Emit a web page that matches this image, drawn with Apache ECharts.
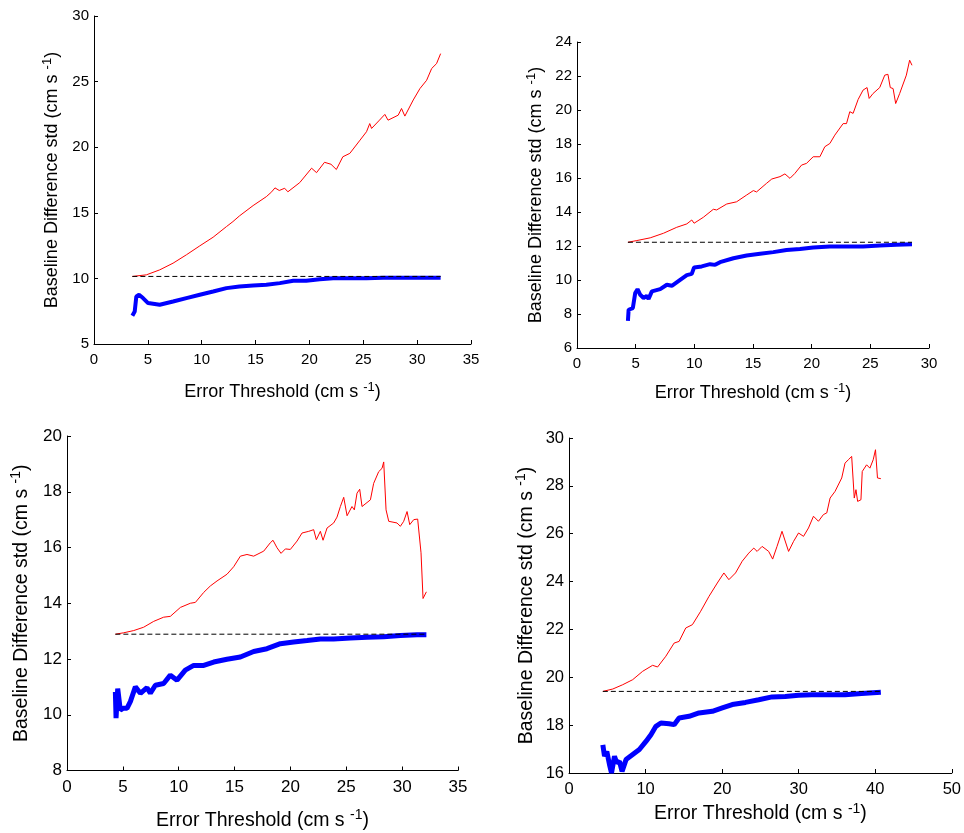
<!DOCTYPE html>
<html>
<head>
<meta charset="utf-8">
<script src="https://cdn.jsdelivr.net/npm/echarts@6/dist/echarts.min.js"></script>
<style>
  html, body { margin: 0; padding: 0; background: #fff; }
  #chart { width: 964px; height: 833px; }
</style>
</head>
<body>
<div id="chart"></div>
<script>
// panel 1
const redX1 = [3.56, 4.86, 6.1, 7.34, 8.58, 9.82, 11.06, 12.3, 12.9, 13.5, 14.77, 16.0, 16.5, 16.8, 17.2, 17.7, 18.0, 19.1, 20.2, 20.66, 21.4, 22.0, 22.5, 23.1, 23.75, 24.7, 25.3, 25.6, 25.77, 26.5, 27.0, 27.3, 28.24, 28.55, 28.86, 29.64, 30.26, 30.88, 31.35, 31.8, 32.18];
const redY1 = [10.15, 10.27, 10.65, 11.16, 11.8, 12.48, 13.14, 13.95, 14.33, 14.76, 15.55, 16.23, 16.6, 16.9, 16.7, 16.87, 16.6, 17.3, 18.4, 18.06, 18.85, 18.7, 18.3, 19.27, 19.53, 20.54, 21.18, 21.8, 21.43, 22.06, 22.5, 22.06, 22.44, 22.95, 22.37, 23.6, 24.47, 25.1, 26.0, 26.37, 27.13];
const blueX1 = [3.56, 3.78, 3.93, 4.18, 4.55, 5.02, 6.1, 7.34, 8.58, 9.82, 11.06, 12.3, 13.5, 14.77, 16.0, 17.25, 18.5, 19.7, 20.96, 22.2, 23.75, 25.3, 26.85, 28.4, 29.95, 32.18];
const blueY1 = [7.16, 7.48, 8.63, 8.75, 8.5, 8.12, 7.99, 8.24, 8.5, 8.75, 9.0, 9.26, 9.39, 9.46, 9.51, 9.64, 9.82, 9.82, 9.94, 10.02, 10.02, 10.02, 10.05, 10.05, 10.05, 10.05];
const baseX1 = [3.56, 32.18];
const baseY1 = [10.15, 10.15];

// panel 2
const redX2 = [4.34, 5.1, 6.24, 7.37, 8.5, 9.36, 9.78, 9.98, 10.77, 11.62, 11.9, 12.76, 13.6, 14.46, 15.03, 15.3, 16.16, 16.6, 17.3, 17.72, 18.15, 18.57, 19.14, 19.56, 20.13, 20.7, 21.12, 21.55, 21.97, 22.68, 22.97, 23.25, 23.53, 23.96, 24.38, 24.72, 24.9, 25.23, 25.8, 26.23, 26.5, 26.7, 26.94, 27.16, 27.5, 28.07, 28.35, 28.55];
const redY2 = [12.22, 12.32, 12.48, 12.75, 13.1, 13.3, 13.53, 13.34, 13.69, 14.16, 14.12, 14.47, 14.6, 15.0, 15.26, 15.18, 15.69, 15.94, 16.08, 16.24, 15.98, 16.27, 16.76, 16.86, 17.25, 17.25, 17.84, 18.03, 18.52, 19.2, 19.2, 19.9, 19.8, 20.62, 21.17, 21.32, 20.68, 20.97, 21.32, 22.05, 22.1, 21.32, 21.26, 20.38, 20.97, 22.05, 22.93, 22.63];
const blueX2 = [4.34, 4.4, 4.76, 4.96, 5.16, 5.39, 5.67, 5.95, 6.1, 6.38, 7.09, 7.66, 8.08, 8.79, 9.36, 9.78, 9.98, 10.63, 11.34, 11.77, 12.19, 13.33, 14.46, 15.6, 16.73, 17.86, 19.0, 20.13, 21.55, 22.97, 24.38, 25.8, 27.22, 28.55];
const blueY2 = [7.6, 8.25, 8.35, 9.23, 9.46, 9.13, 8.94, 9.07, 8.88, 9.33, 9.46, 9.72, 9.66, 10.01, 10.29, 10.36, 10.74, 10.8, 10.93, 10.89, 11.05, 11.28, 11.44, 11.54, 11.64, 11.77, 11.83, 11.91, 11.97, 11.97, 11.97, 12.03, 12.07, 12.1];
const baseX2 = [4.34, 28.55];
const baseY2 = [12.22, 12.22];

// panel 3
const redX3 = [4.33, 5.07, 5.97, 6.86, 7.76, 8.65, 9.25, 10.15, 11.04, 11.49, 12.24, 12.83, 13.43, 14.32, 14.92, 15.52, 16.11, 16.71, 17.61, 18.2, 18.44, 18.8, 19.16, 19.55, 19.99, 20.59, 21.04, 21.64, 22.08, 22.32, 22.68, 22.92, 23.28, 23.87, 24.17, 24.47, 24.77, 25.07, 25.51, 25.72, 25.96, 26.2, 26.41, 27.16, 27.45, 27.9, 28.2, 28.35, 28.56, 28.8, 29.54, 29.84, 30.14, 30.44, 30.68, 31.04, 31.39, 31.69, 31.87, 32.0, 32.17];
const redY3 = [12.89, 12.94, 13.02, 13.14, 13.35, 13.5, 13.53, 13.85, 14.0, 14.03, 14.39, 14.62, 14.8, 15.04, 15.31, 15.69, 15.75, 15.69, 15.87, 16.17, 16.26, 15.99, 15.79, 15.95, 15.93, 16.23, 16.52, 16.58, 16.64, 16.28, 16.58, 16.26, 16.7, 16.88, 17.09, 17.47, 17.8, 17.14, 17.47, 17.35, 17.95, 18.09, 17.47, 17.71, 18.3, 18.72, 18.84, 19.07, 17.35, 16.94, 16.88, 16.76, 16.94, 17.29, 16.82, 17.0, 17.02, 15.81, 14.17, 14.17, 14.41];
const blueX3 = [4.33, 4.39, 4.54, 4.77, 5.01, 5.37, 5.67, 6.12, 6.57, 7.16, 7.46, 7.91, 8.65, 9.25, 9.85, 10.59, 11.34, 12.24, 13.13, 14.32, 15.52, 16.71, 17.9, 19.1, 20.29, 21.49, 22.68, 23.87, 25.37, 26.86, 28.35, 29.84, 31.33, 32.17];
const blueY3 = [10.82, 9.88, 10.94, 10.17, 10.23, 10.23, 10.47, 11.0, 10.77, 10.97, 10.77, 11.06, 11.12, 11.42, 11.24, 11.6, 11.77, 11.77, 11.89, 11.99, 12.07, 12.27, 12.37, 12.55, 12.61, 12.66, 12.72, 12.72, 12.75, 12.78, 12.8, 12.84, 12.87, 12.87];
const baseX3 = [4.33, 32.17];
const baseY3 = [12.89, 12.89];

// panel 4
const redX4 = [4.42, 5.72, 7.02, 8.32, 9.62, 10.92, 11.57, 12.65, 13.73, 14.38, 15.25, 16.12, 17.2, 18.28, 19.37, 20.23, 20.88, 21.75, 22.62, 23.48, 24.13, 24.57, 25.22, 26.08, 26.6, 27.17, 27.82, 28.68, 29.33, 29.98, 30.63, 31.28, 31.93, 32.58, 33.23, 33.67, 34.1, 34.75, 35.62, 36.05, 36.48, 36.92, 37.26, 37.48, 37.7, 38.13, 38.3, 38.87, 39.3, 39.73, 40.03, 40.29, 40.73];
const redY4 = [19.41, 19.51, 19.69, 19.9, 20.25, 20.5, 20.43, 20.88, 21.43, 21.5, 22.06, 22.2, 22.76, 23.38, 23.94, 24.36, 24.08, 24.36, 24.85, 25.19, 25.4, 25.26, 25.47, 25.26, 24.94, 25.47, 26.1, 25.26, 25.68, 26.03, 25.89, 26.24, 26.73, 26.52, 26.8, 26.87, 27.49, 27.77, 28.33, 28.95, 29.09, 29.23, 27.49, 27.84, 27.35, 27.42, 28.6, 28.88, 28.74, 29.09, 29.51, 28.33, 28.3];
const blueX4 = [4.42, 4.64, 4.94, 5.29, 5.55, 5.94, 6.24, 6.59, 6.93, 7.45, 8.32, 9.19, 10.05, 10.7, 11.35, 12.0, 13.08, 13.73, 14.38, 15.68, 16.98, 18.72, 20.02, 21.32, 23.05, 24.78, 26.52, 28.25, 29.98, 31.71, 33.88, 36.05, 38.21, 40.73];
const blueY4 = [17.18, 16.7, 16.9, 16.35, 16.0, 16.7, 16.42, 16.49, 16.07, 16.56, 16.77, 16.98, 17.32, 17.6, 17.95, 18.09, 18.06, 18.02, 18.3, 18.37, 18.51, 18.58, 18.72, 18.86, 18.95, 19.06, 19.18, 19.2, 19.25, 19.27, 19.27, 19.27, 19.32, 19.37];
const baseX4 = [4.42, 40.73];
const baseY4 = [19.41, 19.41];

const xRanges = [[0, 35, 5], [0, 30, 5], [0, 35, 5], [0, 50, 10]];
const yRanges = [[5, 30, 5], [6, 24, 2], [8, 20, 2], [16, 30, 2]];

const zip = (xs, ys) => xs.map((x, i) => [x, ys[i]]);

const panels = [
  { red: zip(redX1, redY1), blue: zip(blueX1, blueY1), base: zip(baseX1, baseY1) },
  { red: zip(redX2, redY2), blue: zip(blueX2, blueY2), base: zip(baseX2, baseY2) },
  { red: zip(redX3, redY3), blue: zip(blueX3, blueY3), base: zip(baseX3, baseY3) },
  { red: zip(redX4, redY4), blue: zip(blueX4, blueY4), base: zip(baseX4, baseY4) }
];

const grids = [
  { left: 94, top: 16, width: 377, height: 328 },
  { left: 577, top: 42, width: 352, height: 306 },
  { left: 67, top: 436, width: 391, height: 337 },
  { left: 569, top: 438, width: 385, height: 335 }
];
const xGaps = [37, 34, 38, 29];
const yGaps = [31, 30, 34, 31];
// bottom row is drawn a bit larger in the original
const tickSize = [15, 15, 17, 16.5];
const titleSize = [18, 18, 19.5, 19.5];

const font = '"Liberation Sans", Arial, Helvetica, sans-serif';

const xAxis = [], yAxis = [], series = [];
panels.forEach((p, i) => {
  const supSize = Math.round(titleSize[i] * 0.7);
  const nameStyle = {
    fontSize: titleSize[i], fontFamily: font, color: '#000', lineHeight: titleSize[i] + 4,
    rich: { sup: { fontSize: supSize, fontFamily: font, color: '#000', verticalAlign: 'top', lineHeight: supSize } }
  };
  xAxis.push({
    type: 'value', gridIndex: i,
    min: xRanges[i][0], max: xRanges[i][1], interval: xRanges[i][2],
    name: 'Error Threshold (cm s {sup|-1})',
    nameLocation: 'middle', nameGap: xGaps[i],
    nameTextStyle: nameStyle,
    axisLine: { lineStyle: { color: '#000', width: 1 } },
    axisTick: { inside: true, length: 4, lineStyle: { color: '#000' } },
    axisLabel: { fontSize: tickSize[i], fontFamily: font, color: '#000', margin: 8 },
    splitLine: { show: false }
  });
  yAxis.push({
    type: 'value', gridIndex: i,
    min: yRanges[i][0], max: yRanges[i][1], interval: yRanges[i][2],
    name: 'Baseline Difference std (cm s {sup|-1})',
    nameLocation: 'middle', nameGap: yGaps[i],
    nameTextStyle: nameStyle,
    axisLine: { show: true, lineStyle: { color: '#000', width: 1 } },
    axisTick: { show: true, inside: true, length: 4, lineStyle: { color: '#000' } },
    axisLabel: { fontSize: tickSize[i], fontFamily: font, color: '#000', margin: 5 },
    splitLine: { show: false }
  });
  series.push(
    { type: 'line', xAxisIndex: i, yAxisIndex: i, data: p.red, showSymbol: false,
      lineStyle: { color: '#ff0000', width: 1 }, z: 2 },
    { type: 'line', xAxisIndex: i, yAxisIndex: i, data: p.blue, showSymbol: false,
      lineStyle: { color: '#0000ff', width: i < 2 ? 4 : 5 }, z: 3 },
    { type: 'line', xAxisIndex: i, yAxisIndex: i, data: p.base, showSymbol: false,
      lineStyle: { color: '#000', width: 1, type: [5, 3] }, z: 4 }
  );
});

const chart = echarts.init(document.getElementById('chart'));
chart.setOption({
  animation: false,
  backgroundColor: '#fff',
  grid: grids,
  xAxis: xAxis,
  yAxis: yAxis,
  series: series
});
</script>
</body>
</html>
